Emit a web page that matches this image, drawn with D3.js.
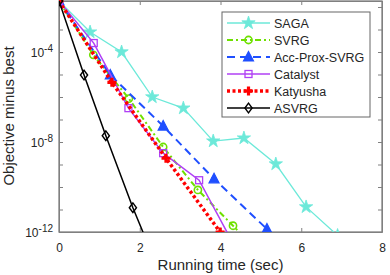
<!DOCTYPE html>
<html>
<head>
<meta charset="utf-8">
<script src="https://cdn.jsdelivr.net/npm/d3@7"></script>
<style>
  body { margin: 0; background: #fff; }
  svg { display: block; font-family: "Liberation Sans", Arial, sans-serif; }
  .axis path, .axis line { stroke: #808080; stroke-width: 1; }
  .axis text { fill: #262626; font-size: 12px; font-family: "Liberation Sans", Arial, sans-serif; }
</style>
</head>
<body>
<div id="chart"></div>
<script>
// data (time in sec, objective minus best)
let sagaT = [0, 0.77, 1.55, 2.31, 3.08, 3.82, 4.58, 5.37, 6.12, 6.9];
let sagaV = [0.0185, 7.7e-4, 1e-4, 1e-6, 3.2e-7, 1.1e-8, 1.5e-8, 1.05e-9, 1.3e-11, 7e-13];
let svrgT = [0, 0.85, 1.73, 2.58, 3.44, 4.31, 5.17];
let svrgV = [0.0185, 7.5e-5, 8.5e-7, 6e-9, 7.4e-11, 1.9e-12, 5e-14];
let accT = [0, 1.27, 2.58, 3.84, 5.15];
let accV = [0.0185, 9.5e-6, 5.1e-8, 2.3e-10, 1.35e-12];
let catT = [0, 0.86, 1.72, 2.58, 3.47, 4.33];
let catV = [0.0185, 2.5e-4, 3.2e-7, 3.2e-9, 2e-10, 2.7e-13];
let katT = [0, 1.31, 2.65, 3.99];
let katV = [0.0185, 4.5e-6, 1.9e-9, 1e-12];
let asvT = [0, 0.62, 1.16, 1.83, 2.4];
let asvV = [0.0185, 9.5e-6, 1.9e-8, 1.2e-11, 4e-14];

let xTicks = [0, 2, 4, 6, 8];
let yLabelTicks = [1e-4, 1e-8, 1e-12];
let yLabelExp = ["-4", "-8", "-12"];

let series = [
    {name: "SAGA", t: sagaT, v: sagaV, color: "#6ce9d9", width: 1.3, dash: null, marker: "star"},
    {name: "SVRG", t: svrgT, v: svrgV, color: "#6ee000", width: 2, dash: "6,3,2,3", marker: "circle"},
    {name: "Acc-Prox-SVRG", t: accT, v: accV, color: "#1f4fff", width: 2, dash: "8,5", marker: "triangle"},
    {name: "Catalyst", t: catT, v: catV, color: "#b040f5", width: 1.5, dash: null, marker: "square"},
    {name: "Katyusha", t: katT, v: katV, color: "#ff0000", width: 3.5, dash: "3,2.5", marker: "plus"},
    {name: "ASVRG", t: asvT, v: asvV, color: "#000000", width: 1.5, dash: null, marker: "diamond"}
];

let W = 390, H = 275;
let margin = {top: 1, right: 8, bottom: 43, left: 59};
let width = W - margin.left - margin.right;
let height = H - margin.top - margin.bottom;

let svg = d3.select("#chart").append("svg")
    .attr("width", W)
    .attr("height", H);

let x = d3.scaleLinear().domain([0, 8]).range([0, width]);
let y = d3.scaleLog().domain([1e-12, 0.0185]).range([height, 0]);

let g = svg.append("g").attr("transform", "translate(" + margin.left + "," + margin.top + ")");

let decades = d3.range(-12, -1).map(function(e) { return Math.pow(10, e); });

// axes with inward ticks, mirrored on top / right
g.append("g")
    .attr("class", "axis")
    .attr("transform", "translate(0," + height + ")")
    .call(d3.axisBottom(x).tickValues(xTicks).tickSizeInner(-4).tickSizeOuter(0).tickPadding(11.5).tickFormat(d3.format("d")));

g.append("g")
    .attr("class", "axis")
    .call(d3.axisTop(x).tickValues(xTicks).tickSizeInner(-4).tickSizeOuter(0).tickFormat(""));

g.append("g")
    .attr("class", "axis")
    .call(d3.axisLeft(y).tickValues(decades).tickSizeInner(-4).tickSizeOuter(0).tickFormat(""));

g.append("g")
    .attr("class", "axis")
    .attr("transform", "translate(" + width + ",0)")
    .call(d3.axisRight(y).tickValues(decades).tickSizeInner(-4).tickSizeOuter(0).tickFormat(""));

g.append("rect")
    .attr("width", width)
    .attr("height", height)
    .attr("fill", "none")
    .attr("stroke", "#808080")
    .attr("stroke-width", 1.3);

// y tick labels with superscripts
let ylab = g.append("g")
    .selectAll("text")
    .data(yLabelTicks)
    .enter().append("text")
    .attr("x", -6)
    .attr("y", function(d) { return y(d) + 5; })
    .attr("text-anchor", "end")
    .attr("fill", "#262626")
    .attr("font-size", "12px");
ylab.append("tspan").text("10");
ylab.append("tspan")
    .attr("dy", -5)
    .attr("font-size", "10px")
    .text(function(d, i) { return yLabelExp[i]; });

// axis titles
svg.append("text")
    .attr("x", margin.left + width / 2)
    .attr("y", 270)
    .attr("text-anchor", "middle")
    .attr("fill", "#262626")
    .attr("font-size", "15px")
    .text("Running time (sec)");

svg.append("text")
    .attr("transform", "translate(14," + (margin.top + 115) + ") rotate(-90)")
    .attr("text-anchor", "middle")
    .attr("fill", "#262626")
    .attr("font-size", "15px")
    .text("Objective minus best");

// clip to plot area (a little room at the top for the start markers)
svg.append("defs").append("clipPath")
    .attr("id", "clip")
    .append("rect")
    .attr("x", 0)
    .attr("y", -8)
    .attr("width", width)
    .attr("height", height + 8);

function drawMarker(sel, type, color) {
    if (type === "star") {
        sel.append("path").attr("d", d3.symbol().type(d3.symbolStar).size(55)())
            .attr("fill", color).attr("stroke", color).attr("stroke-width", 0.8);
    } else if (type === "circle") {
        sel.append("circle").attr("r", 3.6)
            .attr("fill", "none").attr("stroke", color).attr("stroke-width", 1.6);
    } else if (type === "triangle") {
        sel.append("path").attr("d", "M0,-5.5L5,4L-5,4Z")
            .attr("fill", color).attr("stroke", color).attr("stroke-width", 1.2);
    } else if (type === "square") {
        sel.append("rect").attr("x", -3.5).attr("y", -3.5).attr("width", 7).attr("height", 7)
            .attr("fill", "none").attr("stroke", color).attr("stroke-width", 1.3);
    } else if (type === "plus") {
        sel.append("path").attr("d", "M-4.5,0H4.5M0,-4.5V4.5")
            .attr("stroke", color).attr("stroke-width", 3.2);
    } else if (type === "diamond") {
        sel.append("path").attr("d", "M0,-4.8L3.6,0L0,4.8L-3.6,0Z")
            .attr("fill", "none").attr("stroke", color).attr("stroke-width", 1.4);
    }
}

let line = d3.line()
    .x(function(d) { return x(d[0]); })
    .y(function(d) { return y(d[1]); });

let plot = g.append("g").attr("clip-path", "url(#clip)");

series.forEach(function(s) {
    let pts = s.t.map(function(t, i) { return [t, s.v[i]]; });
    plot.append("path")
        .datum(pts)
        .attr("d", line)
        .attr("fill", "none")
        .attr("stroke", s.color)
        .attr("stroke-width", s.width)
        .attr("stroke-dasharray", s.dash);
    plot.append("g")
        .selectAll("g")
        .data(pts)
        .enter().append("g")
        .attr("transform", function(d) { return "translate(" + x(d[0]) + "," + y(d[1]) + ")"; })
        .each(function() { drawMarker(d3.select(this), s.marker, s.color); });
});

// legend
let legend = svg.append("g").attr("transform", "translate(222,12)");
legend.append("rect")
    .attr("width", 148)
    .attr("height", 105)
    .attr("fill", "#fff")
    .attr("stroke", "#666")
    .attr("stroke-width", 1);

let item = legend.selectAll("g.item")
    .data(series)
    .enter().append("g")
    .attr("class", "item")
    .attr("transform", function(d, i) { return "translate(0," + (11 + i * 17) + ")"; });

item.append("line")
    .attr("x1", 5).attr("x2", 48)
    .attr("stroke", function(d) { return d.color; })
    .attr("stroke-width", function(d) { return d.width; })
    .attr("stroke-dasharray", function(d) { return d.dash; });

item.append("g")
    .attr("transform", "translate(26.5,0)")
    .each(function(d) { drawMarker(d3.select(this), d.marker, d.color); });

item.append("text")
    .attr("x", 52)
    .attr("y", 4.5)
    .attr("fill", "#262626")
    .attr("font-size", "12.5px")
    .text(function(d) { return d.name; });
</script>
</body>
</html>
